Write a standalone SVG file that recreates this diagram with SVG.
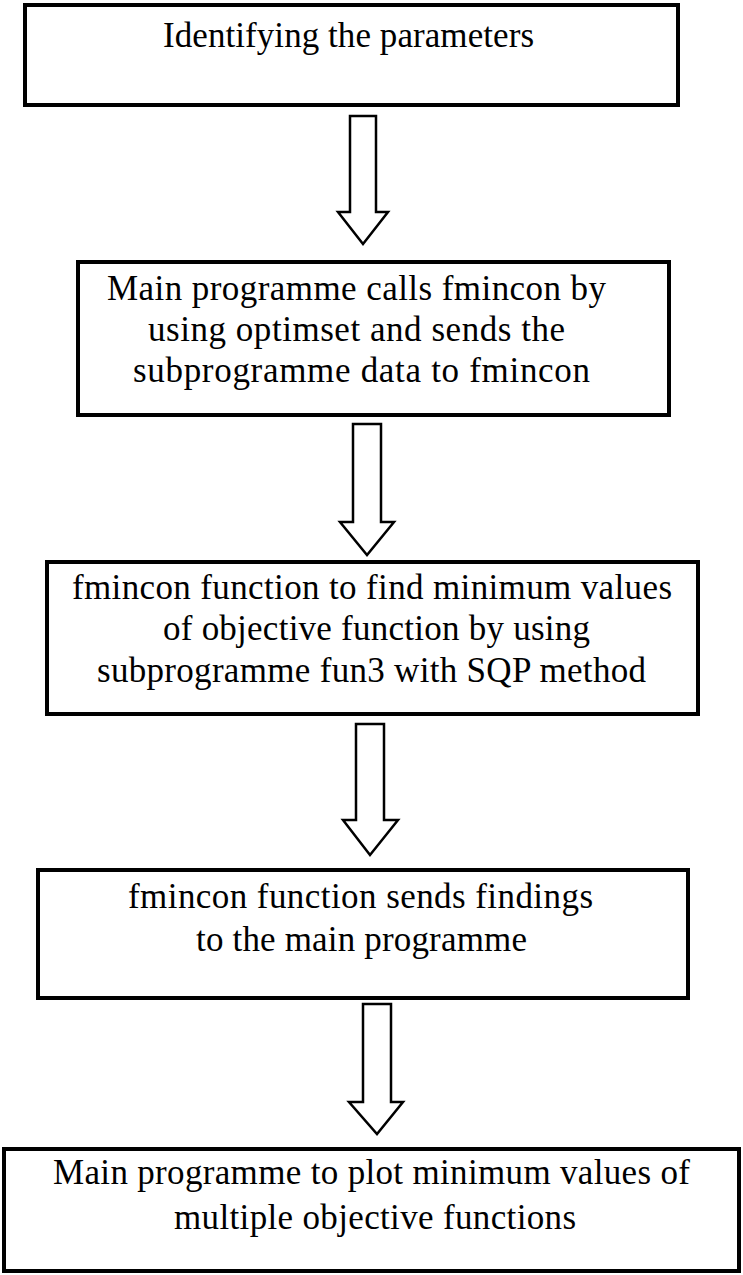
<svg xmlns="http://www.w3.org/2000/svg" width="743" height="1275" viewBox="0 0 743 1275">
<style>
.box{fill:#fff;stroke:#000;stroke-width:4}
.t{font-family:"Liberation Serif","Times New Roman",serif;font-size:35px;fill:#000}
.arr{fill:#fff;stroke:#000;stroke-width:2.5;stroke-linejoin:miter}
</style>
<rect width="743" height="1275" fill="#fff"/>
<g id="connectors">
<polygon class="arr" points="350,116 376,116 376,212 388,212 363,244 338,212 350,212"/>
<polygon class="arr" points="353,424 381,424 381,522 394,522 367,555 340,522 353,522"/>
<polygon class="arr" points="356,724 384,724 384,820 398,820 370,855 343,820 356,820"/>
<polygon class="arr" points="363,1004 391,1004 391,1102 403,1102 377,1134 349,1102 363,1102"/>
</g>
<g id="node1">
<rect class="box" x="25" y="5" width="653" height="100"/>
<text class="t" x="163" y="47" textLength="371" lengthAdjust="spacing">Identifying the parameters</text>
</g>
<g id="node2">
<rect class="box" x="78" y="262" width="591" height="153"/>
<text class="t" x="107" y="300" textLength="499" lengthAdjust="spacing">Main programme calls fmincon by</text>
<text class="t" x="148" y="341" textLength="417" lengthAdjust="spacing">using optimset and sends the</text>
<text class="t" x="133" y="382" textLength="457" lengthAdjust="spacing">subprogramme data to fmincon</text>
</g>
<g id="node3">
<rect class="box" x="47" y="562" width="651" height="152"/>
<text class="t" x="72" y="599" textLength="600" lengthAdjust="spacing">fmincon function to find minimum values</text>
<text class="t" x="163" y="640" textLength="427" lengthAdjust="spacing">of objective function by using</text>
<text class="t" x="97" y="682" textLength="549" lengthAdjust="spacing">subprogramme fun3 with SQP method</text>
</g>
<g id="node4">
<rect class="box" x="38" y="870" width="650" height="128"/>
<text class="t" x="128" y="908" textLength="465" lengthAdjust="spacing">fmincon function sends findings</text>
<text class="t" x="196" y="951" textLength="331" lengthAdjust="spacing">to the main programme</text>
</g>
<g id="node5">
<rect class="box" x="4" y="1149" width="735" height="122"/>
<text class="t" x="53" y="1184" textLength="637" lengthAdjust="spacing">Main programme to plot minimum values of</text>
<text class="t" x="174" y="1229" textLength="402" lengthAdjust="spacing">multiple objective functions</text>
</g>
</svg>
